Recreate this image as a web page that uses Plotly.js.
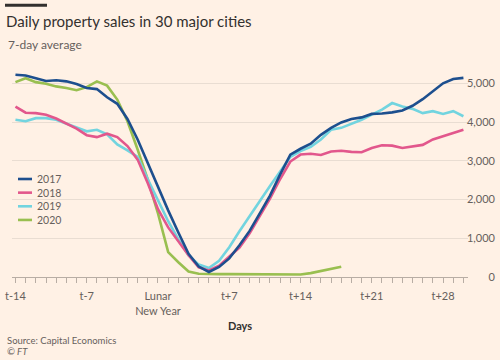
<!DOCTYPE html>
<html>
<head>
<meta charset="utf-8">
<script src="https://cdn.plot.ly/plotly-3.0.1.min.js"></script>
<style>html,body{margin:0;padding:0;background:#FFF1E5;}#chart{width:500px;height:360px;}</style>
</head>
<body>
<div id="chart"></div>
<script>
// Days relative to Lunar New Year
const days = [-14,-13,-12,-11,-10,-9,-8,-7,-6,-5,-4,-3,-2,-1,0,1,2,3,4,5,6,7,8,9,10,11,12,13,14,15,16,17,18,19,20,21,22,23,24,25,26,27,28,29,30];
const days2020 = [-14,-13,-12,-11,-10,-9,-8,-7,-6,-5,-4,-3,-2,-1,0,1,2,3,4,5,6,7,8,9,10,11,12,13,14,15,16,17,18];

const sales2017 = [5220,5200,5130,5060,5080,5050,4980,4880,4850,4640,4470,4080,3550,2930,2300,1720,1150,600,270,130,260,480,820,1190,1640,2100,2650,3160,3310,3440,3670,3850,3990,4080,4120,4210,4220,4250,4300,4420,4590,4790,5000,5110,5140];
const sales2018 = [4400,4240,4230,4190,4090,3960,3830,3660,3610,3700,3610,3380,3030,2420,1750,1280,920,560,250,170,290,520,760,1130,1570,2020,2530,2980,3160,3180,3150,3240,3260,3230,3220,3330,3400,3390,3330,3370,3410,3550,3630,3700,3800];
const sales2019 = [4060,4020,4100,4100,4060,3950,3860,3760,3800,3680,3420,3270,3100,2520,1980,1440,970,560,320,230,420,770,1180,1580,1960,2350,2720,3100,3250,3360,3550,3800,3850,3950,4060,4190,4320,4490,4400,4340,4230,4280,4210,4280,4150];
const sales2020 = [5030,5130,5030,4990,4920,4880,4820,4900,5050,4940,4580,4020,3290,2510,1640,640,380,140,85,75,75,75,75,78,80,80,75,70,65,100,150,200,265];

const seriesNames = ['2017','2018','2019','2020'];
const tickDays = [-14,-7,0,7,14,21,28];
const tickLabels = ['t-14','t-7','Lunar<br>New Year','t+7','t+14','t+21','t+28'];
const yTicks = [0,1000,2000,3000,4000,5000];

const colors = {'2017':'#1d4f8e','2018':'#e2578c','2019':'#72d4df','2020':'#99bf50'};
const FONT = 'Lato, "Open Sans", sans-serif';
const GREY = '#66605C';

// plot area geometry (pixels) used for paper-coordinate placement of decorations
const PL = 12, PW = 483, PB = 277, PH = 207;
const px = v => (v - PL) / PW;
const py = v => (PB - v) / PH;

function tr(name, x, y){
  return {type:'scatter', mode:'lines', name:name, x:x, y:y,
    line:{color:colors[name], width:2.6}, hoverinfo:'skip', showlegend:false};
}
const traces = [
  tr('2020', days2020, sales2020),
  tr('2019', days, sales2019),
  tr('2018', days, sales2018),
  tr('2017', days, sales2017)
];

// manual legend (FT style short swatches) — one text block, swatches beside each line
const LEG_FONT = 10.5, LEG_STEP = LEG_FONT * 1.3, LEG_TOP = 179;
const legendShapes = seriesNames.map((n, i) => {
  const yy = LEG_TOP + i * LEG_STEP;
  return {type:'line', xref:'paper', yref:'paper', x0:px(18), x1:px(32), y0:py(yy), y1:py(yy),
    line:{color:colors[n], width:2.6}};
});
const legendMid = LEG_TOP + (seriesNames.length - 1) * LEG_STEP / 2;
const legendAnn = {text:seriesNames.join('<br>'), xref:'paper', yref:'paper', x:px(36), y:py(legendMid),
  xanchor:'left', yanchor:'middle', align:'left', showarrow:false, borderpad:0,
  font:{size:LEG_FONT, color:GREY, family:FONT}};

const layout = {
  width:500, height:360,
  paper_bgcolor:'#FFF1E5', plot_bgcolor:'#FFF1E5',
  margin:{l:12, r:5, t:70, b:83},
  font:{family:FONT, color:GREY, size:11},
  showlegend:false,
  title:{text:'Daily property sales in 30 major cities', xref:'container', yref:'container',
    x:0.012, xanchor:'left', y:1-22/360, yanchor:'middle',
    font:{family:FONT, size:15, color:'#33302E'}},
  xaxis:{domain:[0, 456/483], range:[-14.34, 30.45],
    tickmode:'array', tickvals:tickDays, ticktext:tickLabels,
    ticks:'outside', ticklen:5, tickcolor:'#B8ADA4', tickwidth:1,
    showline:true, linecolor:'#B8ADA4', linewidth:1,
    showgrid:false, zeroline:false, ticklabelstandoff:4,
    minor:{dtick:1, tick0:0, ticks:'outside', ticklen:5, tickcolor:'#B8ADA4', showgrid:false},
    tickfont:{size:11, color:GREY, family:FONT},
    title:{text:'Days', standoff:6, font:{size:11, color:'#33302E', family:FONT, weight:'bold'}}
  },
  yaxis:{side:'left', anchor:'free', position:1, range:[0, 5343],
    tickmode:'array', tickvals:yTicks, tickformat:',',
    showgrid:true, gridcolor:'#E9DDD2', gridwidth:1, zeroline:false, showline:false,
    ticks:'', tickfont:{size:11, color:GREY, family:FONT}},
  shapes:[
    {type:'rect', xref:'paper', yref:'paper', x0:px(5), x1:px(47),
     y0:py(6.7), y1:py(3.7), fillcolor:'#33302E', line:{width:0}}
  ].concat(legendShapes),
  annotations:[
    {text:'7-day average', xref:'paper', yref:'paper', x:px(6), y:py(45),
     xanchor:'left', yanchor:'middle', showarrow:false, font:{size:12, color:GREY, family:FONT}},
    {text:'Source: Capital Economics', xref:'paper', yref:'paper', x:px(5), y:py(340),
     xanchor:'left', yanchor:'middle', showarrow:false, font:{size:9.5, color:GREY, family:FONT}},
    {text:'<i>© FT</i>', xref:'paper', yref:'paper', x:px(5), y:py(351.5),
     xanchor:'left', yanchor:'middle', showarrow:false, font:{size:9.5, color:GREY, family:FONT}},
    legendAnn
  ]
};

Plotly.newPlot('chart', traces, layout, {staticPlot:true, displayModeBar:false});
</script>
</body>
</html>
